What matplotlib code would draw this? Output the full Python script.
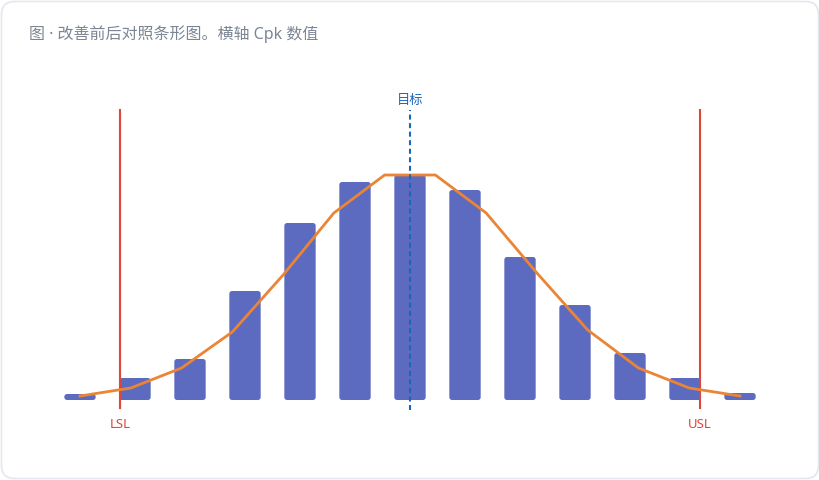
import numpy as np
import matplotlib
matplotlib.use("Agg")
import matplotlib.pyplot as plt
from matplotlib.patches import FancyBboxPatch

plt.rcParams["font.family"] = ["Noto Sans", "Noto Sans CJK SC", "DejaVu Sans"]

# ---- data ----
bin_pos = np.arange(13)
bin_counts = [6, 22, 41, 109, 177, 218, 225, 210, 143, 95, 47, 22, 7]
curve_x = np.linspace(0, 12, 14)
curve_y = [4, 12, 32, 68, 125, 187, 225, 225, 187, 127, 70, 32, 12, 4]
lsl, usl, target = 0.73, 11.27, 6.0
title = "图 · 改善前后对照条形图。横轴 Cpk 数值"

BAR = "#5c6bc0"
ORANGE = "#eb8535"
RED = "#e0453a"
BLUE = "#1a66b8"
GREY = "#7b8593"
BORDER = "#e3e7ee"

fig = plt.figure(figsize=(8.2, 4.8), dpi=100)
fig.patch.set_facecolor("white")

# card frame, kept behind the axes
card = FancyBboxPatch((1.5 / 820, 1.5 / 480), 817 / 820, 477 / 480,
                      boxstyle="round,pad=0,rounding_size=0.016",
                      mutation_aspect=820 / 480,
                      transform=fig.transFigure, facecolor="white",
                      edgecolor=BORDER, linewidth=1.2, zorder=-5)
fig.patches.append(card)

fig.text(29 / 820, 1 - 34 / 480, title, fontsize=11.5, color=GREY,
         va="center", ha="left")

ax = fig.add_axes([25 / 820, 40 / 480, 770 / 820, 350 / 480])
ax.set_zorder(2)
ax.set_xlim(-1, 13)
ax.set_ylim(-40, 310)
ax.axis("off")

# bars with rounded corners (x unit = 55px, y unit = 1px)
bars = ax.bar(bin_pos, bin_counts, width=0.57, color=BAR)
for b in bars:
    x0, y0 = b.get_x(), b.get_y()
    w, h = b.get_width(), b.get_height()
    ax.add_patch(FancyBboxPatch((x0, y0), w, h,
                                boxstyle="round,pad=0,rounding_size=0.05",
                                mutation_aspect=55, facecolor=BAR,
                                edgecolor="none", zorder=2))
    b.remove()

ax.plot(curve_x, curve_y, color=ORANGE, linewidth=2.0, zorder=4)

for v, lab in [(lsl, "LSL"), (usl, "USL")]:
    ax.plot([v, v], [-8, 290], color=RED, linewidth=1.5, zorder=3)
    ax.text(v, -25, lab, color=RED, fontsize=9.5, ha="center", va="center")

ax.plot([target, target], [-10, 290], color=BLUE, linewidth=1.5,
        linestyle=(0, (2.4, 1.7)), zorder=5)
ax.text(target, 300, "目标", color=BLUE, fontsize=9.5, ha="center", va="center")

fig.savefig("out.png", dpi=100, facecolor="white")
